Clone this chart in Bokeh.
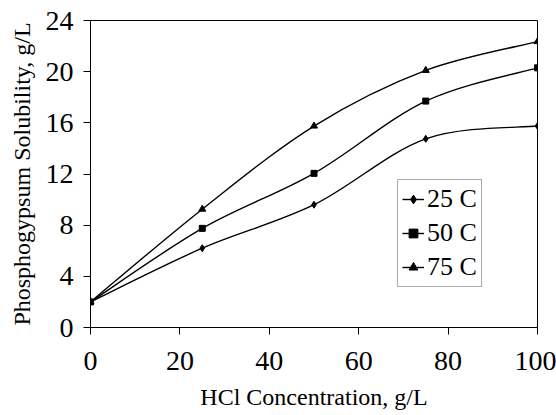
from bokeh.plotting import figure
from bokeh.models import Range1d, FixedTicker, Legend, LegendItem, ColumnDataSource
from bokeh.embed import file_html
from bokeh.resources import INLINE

x_vals = [0, 25, 50, 75, 100]
y_25 = [2.0, 6.2, 9.6, 14.75, 15.75]
y_50 = [2.0, 7.75, 12.05, 17.7, 20.3]
y_75 = [2.0, 9.25, 15.75, 20.1, 22.35]
labels = ["25 C", "50 C", "75 C"]
markers = ["diamond", "square", "triangle"]
marker_sizes = [7, 6, 7]

FONT = "'Liberation Serif', 'Times New Roman', 'DejaVu Serif', serif"

p = figure(width=556, height=415, output_backend="svg", toolbar_location=None,
           x_range=Range1d(0, 100), y_range=Range1d(0, 24),
           min_border_left=90, min_border_right=19, min_border_top=20, min_border_bottom=88)
p.background_fill_color = "white"
p.border_fill_color = "white"
p.outline_line_color = "black"
p.outline_line_width = 1
p.xgrid.visible = False
p.ygrid.visible = False

for ax in (p.xaxis[0], p.yaxis[0]):
    ax.major_label_text_font = FONT
    ax.major_label_text_font_size = "28px"
    ax.major_label_text_color = "black"
    ax.axis_label_text_font = FONT
    ax.axis_label_text_font_size = "24px"
    ax.axis_label_text_font_style = "normal"
    ax.axis_label_text_color = "black"
    ax.major_tick_in = 0
    ax.major_tick_out = 7
    ax.minor_tick_in = 0
    ax.minor_tick_out = 0
    ax.axis_line_color = "black"
    ax.major_tick_line_color = "black"

p.xaxis.ticker = FixedTicker(ticks=[0, 20, 40, 60, 80, 100])
p.yaxis.ticker = FixedTicker(ticks=[0, 4, 8, 12, 16, 20, 24])
p.xaxis.axis_label = "HCl Concentration, g/L"
p.yaxis.axis_label = "Phosphogypsum Solubility, g/L"
p.xaxis.major_label_standoff = 17
p.xaxis.axis_label_standoff = 11
p.yaxis.major_label_standoff = 10
p.yaxis.axis_label_standoff = 8


def smooth_controls(xs, ys):
    n = len(xs)
    x0, y0, x1, y1, cx0, cy0, cx1, cy1 = [], [], [], [], [], [], [], []
    for i in range(n - 1):
        xm = xs[i - 1] if i > 0 else xs[i]
        ym = ys[i - 1] if i > 0 else ys[i]
        xp = xs[i + 2] if i + 2 < n else xs[i + 1]
        yp = ys[i + 2] if i + 2 < n else ys[i + 1]
        x0.append(xs[i]); y0.append(ys[i])
        x1.append(xs[i + 1]); y1.append(ys[i + 1])
        cx0.append(xs[i] + (xs[i + 1] - xm) / 6.0)
        cy0.append(ys[i] + (ys[i + 1] - ym) / 6.0)
        cx1.append(xs[i + 1] - (xp - xs[i]) / 6.0)
        cy1.append(ys[i + 1] - (yp - ys[i]) / 6.0)
    return dict(x0=x0, y0=y0, x1=x1, y1=y1, cx0=cx0, cy0=cy0, cx1=cx1, cy1=cy1)


items = []
for ys, lab, mk, ms in zip([y_25, y_50, y_75], labels, markers, marker_sizes):
    src = ColumnDataSource(smooth_controls(x_vals, ys))
    lr = p.bezier(x0="x0", y0="y0", x1="x1", y1="y1", cx0="cx0", cy0="cy0",
                  cx1="cx1", cy1="cy1", source=src, line_color="black", line_width=1.4)
    sr = p.scatter(x_vals, ys, marker=mk, size=ms, fill_color="black", line_color="black")
    items.append(LegendItem(label=lab, renderers=[lr, sr]))

legend = Legend(items=items, location=(307, 40))
legend.label_text_font = FONT
legend.label_text_font_size = "26px"
legend.label_text_color = "black"
legend.border_line_color = "#555555"
legend.border_line_width = 1
legend.background_fill_alpha = 1
legend.glyph_width = 22
legend.glyph_height = 28
legend.label_height = 28
legend.label_standoff = 3
legend.spacing = 4
legend.padding = 4
legend.margin = 0
p.add_layout(legend)

open("out.html", "w").write(file_html(p, INLINE))
